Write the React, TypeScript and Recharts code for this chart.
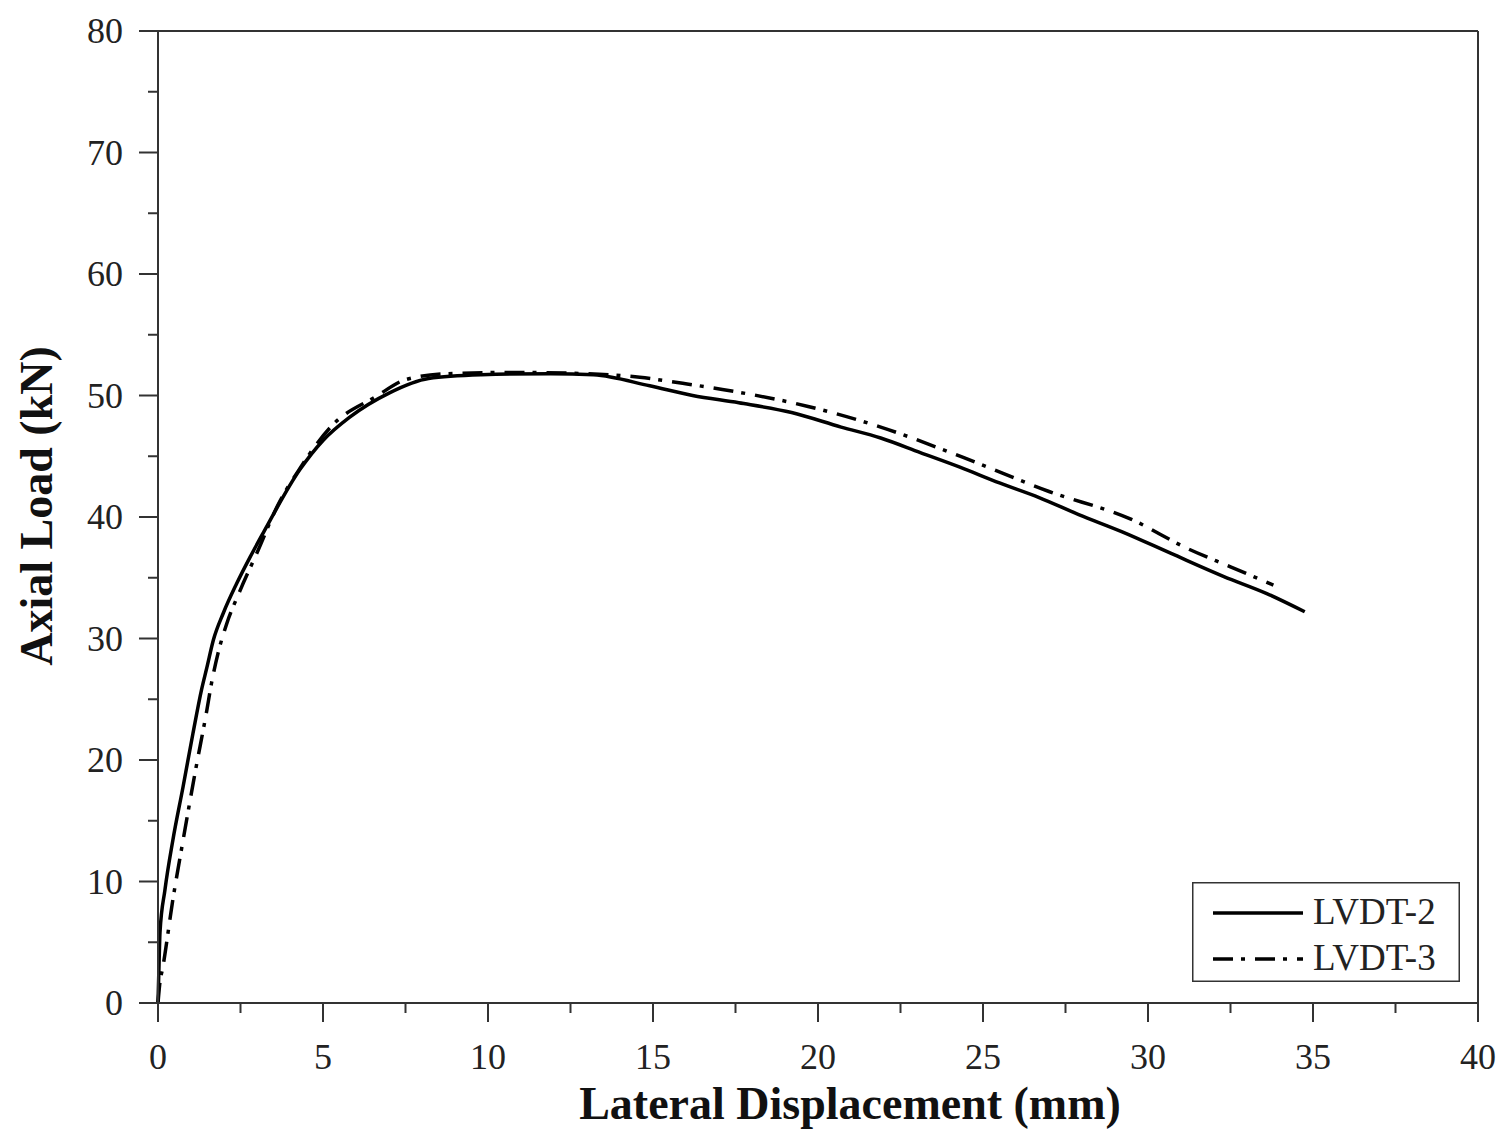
import React from 'react';
import { LineChart, Line, XAxis, YAxis, ReferenceLine } from 'recharts';

// lateral displacement (mm) / axial load (kN)
const lvdt2X = [0, 0.03, 0.06, 0.21, 0.45, 0.76, 1.06, 1.32, 1.48, 1.68, 1.98, 2.38, 2.79, 3.19, 4.3, 5.0, 5.8, 7.0, 8.2, 9.8, 11.9, 13.2, 14.9, 16.2, 17.6, 19.2, 20.7, 21.9, 23.1, 24.3, 25.5, 26.7, 27.9, 29.2, 30.7, 32.3, 33.6, 34.75];
const lvdt2Y = [0, 3.0, 5.8, 9.3, 13.4, 17.8, 22.2, 25.8, 27.6, 29.9, 32.1, 34.5, 36.7, 38.7, 43.9, 46.3, 48.2, 50.2, 51.4, 51.7, 51.8, 51.7, 50.8, 50.0, 49.4, 48.6, 47.4, 46.5, 45.3, 44.1, 42.8, 41.6, 40.2, 38.8, 37.0, 35.1, 33.7, 32.2];

const lvdt3X = [0, 0.05, 0.15, 0.45, 0.76, 1.12, 1.48, 1.62, 1.82, 2.08, 2.48, 3.04, 3.6, 4.3, 5.3, 6.6, 7.5, 8.8, 10.9, 12.9, 14.6, 15.9, 17.1, 19.7, 21.9, 24.4, 27.0, 29.5, 31.2, 32.5, 33.8];
const lvdt3Y = [0, 1.5, 3.0, 8.5, 13.4, 18.9, 24.1, 26.3, 28.8, 31.2, 33.9, 37.3, 40.8, 44.0, 47.6, 49.9, 51.3, 51.8, 51.9, 51.8, 51.5, 51.0, 50.5, 49.1, 47.4, 44.9, 42.1, 39.8, 37.4, 35.9, 34.4];

const xMajorTicks = [0, 5, 10, 15, 20, 25, 30, 35, 40];
const xMinorTicks = [2.5, 7.5, 12.5, 17.5, 22.5, 27.5, 32.5, 37.5];
const yMajorTicks = [0, 10, 20, 30, 40, 50, 60, 70, 80];
const yMinorTicks = [5, 15, 25, 35, 45, 55, 65, 75];

const seriesNames = ['LVDT-2', 'LVDT-3'];
const dashDot = '20 8 4 10';

const lvdt2 = lvdt2X.map((x, i) => ({ x, y: lvdt2Y[i] }));
const lvdt3 = lvdt3X.map((x, i) => ({ x, y: lvdt3Y[i] }));

const FONT = '"Liberation Serif", "Times New Roman", serif';
const AXIS = '#333';

const XTick = ({ x, y, payload }: any) => {
    const major = xMajorTicks.includes(payload.value);
    return (
        <g>
            <line x1={x} y1={y} x2={x} y2={y + (major ? 19 : 10)} stroke={AXIS} strokeWidth={2} />
            {major && (
                <text x={x} y={y + 66} textAnchor="middle" fontFamily={FONT} fontSize={36} fill="#222">
                    {payload.value}
                </text>
            )}
        </g>
    );
};

const YTick = ({ x, y, payload }: any) => {
    const major = yMajorTicks.includes(payload.value);
    return (
        <g>
            <line x1={x} y1={y} x2={x - (major ? 19 : 10)} y2={y} stroke={AXIS} strokeWidth={2} />
            {major && (
                <text x={x - 35} y={y + 12} textAnchor="end" fontFamily={FONT} fontSize={36} fill="#222">
                    {payload.value}
                </text>
            )}
        </g>
    );
};

const XTitle = ({ viewBox }: any) => (
    <text x={viewBox.x + viewBox.width / 2 + 32} y={viewBox.y + 116} textAnchor="middle"
        fontFamily={FONT} fontSize={46} fontWeight="bold" fill="#111">
        Lateral Displacement (mm)
    </text>
);

const YTitle = ({ viewBox }: any) => {
    const cx = 52;
    const cy = viewBox.y + viewBox.height / 2 - 11;
    return (
        <text x={cx} y={cy} transform={`rotate(-90, ${cx}, ${cy})`} textAnchor="middle"
            fontFamily={FONT} fontSize={46} fontWeight="bold" fill="#111">
            Axial Load (kN)
        </text>
    );
};

const LegendBox = () => (
    <svg width={268} height={100} style={{ position: 'absolute', left: 1192, top: 882, display: 'block' }}>
        <rect x={0.75} y={0.75} width={266.5} height={98.5} fill="#fff" stroke={AXIS} strokeWidth={1.5} />
        {seriesNames.map((name, i) => (
            <g key={name}>
                <line x1={21} x2={111} y1={31 + i * 46} y2={31 + i * 46} stroke="#000" strokeWidth={3.5}
                    strokeDasharray={i === 1 ? dashDot : undefined} />
                <text x={121} y={42 + i * 46} fontFamily={FONT} fontSize={37} fill="#222">{name}</text>
            </g>
        ))}
    </svg>
);

export default function App() {
    return (
        <div style={{ position: 'absolute', left: 0, top: 0, width: 1512, height: 1139, background: '#fff' }}>
            <LineChart width={1512} height={1139} margin={{ top: 31, right: 34, left: 0, bottom: 0 }}>
                <XAxis type="number" dataKey="x" domain={[0, 40]} ticks={[...xMajorTicks, ...xMinorTicks].sort((a, b) => a - b)}
                    interval={0} height={136} tickSize={0} tickMargin={0} tick={<XTick />}
                    axisLine={{ stroke: AXIS, strokeWidth: 2 }} label={<XTitle />} />
                <YAxis type="number" dataKey="y" domain={[0, 80]} ticks={[...yMajorTicks, ...yMinorTicks].sort((a, b) => a - b)}
                    interval={0} width={158} tickSize={0} tickMargin={0} tick={<YTick />}
                    axisLine={{ stroke: AXIS, strokeWidth: 2 }} label={<YTitle />} />
                <ReferenceLine y={80} stroke={AXIS} strokeWidth={2} />
                <ReferenceLine x={40} stroke={AXIS} strokeWidth={2} />
                <Line data={lvdt2} dataKey="y" name={seriesNames[0]} type="monotone" stroke="#000" strokeWidth={3.5}
                    dot={false} isAnimationActive={false} strokeLinejoin="round" />
                <Line data={lvdt3} dataKey="y" name={seriesNames[1]} type="monotone" stroke="#000" strokeWidth={3.5}
                    strokeDasharray={dashDot} dot={false} isAnimationActive={false} />
            </LineChart>
            <LegendBox />
        </div>
    );
}
